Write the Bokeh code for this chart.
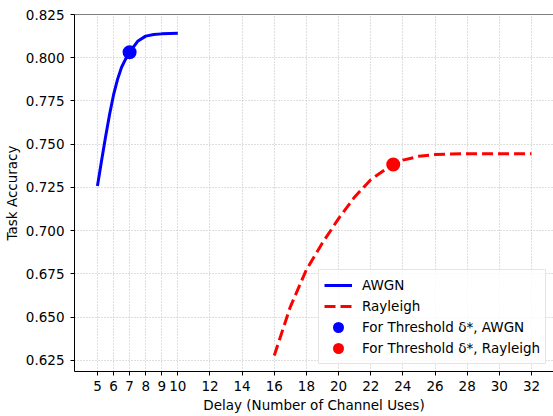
from bokeh.plotting import figure
from bokeh.models import FixedTicker, PrintfTickFormatter, Span, Legend, LegendItem, Range1d
from bokeh.embed import file_html
from bokeh.resources import INLINE

# ---- data ----
awgn_x = [5, 5.25, 5.5, 5.75, 6, 6.25, 6.5, 6.75, 7, 7.5, 8, 8.5, 9, 9.5, 10]
awgn_y = [0.7258, 0.7402, 0.7540, 0.7670, 0.7785, 0.7875, 0.7945, 0.7992, 0.8032,
          0.8095, 0.8125, 0.8134, 0.8138, 0.8140, 0.8141]
ray_x = [16, 17, 18, 19, 20, 21, 22, 23, 24, 25, 26, 27, 28, 30, 32]
ray_y = [0.6279, 0.6560, 0.6775, 0.6930, 0.7070, 0.7195, 0.7295, 0.7360, 0.7408,
         0.7430, 0.7440, 0.7443, 0.7445, 0.7445, 0.7445]
thr_awgn_x = [7]
thr_awgn_y = [0.8032]
thr_ray_x = [23.4]
thr_ray_y = [0.7383]
x_ticks = [5, 6, 7, 8, 9, 10, 12, 14, 16, 18, 20, 22, 24, 26, 28, 30, 32]
y_ticks = [0.625, 0.650, 0.675, 0.700, 0.725, 0.750, 0.775, 0.800, 0.825]
labels = ["AWGN", "Rayleigh", "For Threshold δ*, AWGN", "For Threshold δ*, Rayleigh"]

FONT = "DejaVu Sans"

p = figure(width=553, height=416, output_backend="svg", toolbar_location=None,
           x_range=Range1d(3.572, 33.37), y_range=Range1d(0.6186, 0.825),
           min_border_left=73, min_border_right=0, min_border_top=14, min_border_bottom=45)
p.outline_line_color = None
p.background_fill_color = "white"
p.border_fill_color = "white"

for ax in (p.xaxis[0], p.yaxis[0]):
    ax.major_label_text_font = FONT
    ax.major_label_text_font_size = "13.5px"
    ax.major_label_text_color = "black"
    ax.axis_label_text_font = FONT
    ax.axis_label_text_font_size = "13.5px"
    ax.axis_label_text_font_style = "normal"
    ax.axis_label_text_color = "black"
    ax.axis_line_color = "black"
    ax.major_tick_line_color = "black"
    ax.major_tick_out = 4
    ax.major_tick_in = 0
    ax.minor_tick_line_color = None

p.xaxis.ticker = FixedTicker(ticks=x_ticks)
p.yaxis.ticker = FixedTicker(ticks=y_ticks)
p.yaxis.formatter = PrintfTickFormatter(format="%.3f")
p.xaxis.axis_label = "Delay (Number of Channel Uses)"
p.yaxis.axis_label = "Task Accuracy"
p.xaxis.major_label_standoff = 5
p.yaxis.major_label_standoff = 6
p.xaxis.axis_label_standoff = 3
p.yaxis.axis_label_standoff = 3

for g in (p.xgrid[0], p.ygrid[0]):
    g.grid_line_color = "#bdbdbd"
    g.grid_line_dash = "1 2"
    g.grid_line_width = 1
p.xgrid.ticker = FixedTicker(ticks=x_ticks)
p.ygrid.ticker = FixedTicker(ticks=y_ticks)

p.add_layout(Span(location=0.825, dimension="width", line_color="black", line_width=1))

r1 = p.line(awgn_x, awgn_y, line_color="blue", line_width=3)
r2 = p.line(ray_x, ray_y, line_color="red", line_width=3, line_dash="11 5")
r3 = p.scatter(thr_awgn_x, thr_awgn_y, size=11, fill_color="blue", line_color="blue", line_width=3)
r4 = p.scatter(thr_ray_x, thr_ray_y, size=11, fill_color="red", line_color="red", line_width=3)

legend = Legend(items=[LegendItem(label=labels[0], renderers=[r1]),
                       LegendItem(label=labels[1], renderers=[r2]),
                       LegendItem(label=labels[2], renderers=[r3]),
                       LegendItem(label=labels[3], renderers=[r4])],
                location=(244, 7))
legend.label_text_font = FONT
legend.label_text_font_size = "13.5px"
legend.label_text_color = "black"
legend.glyph_width = 28
legend.glyph_height = 20
legend.label_height = 20
legend.label_standoff = 10
legend.padding = 5
legend.spacing = 1
legend.margin = 0
legend.border_line_color = "#cccccc"
legend.background_fill_alpha = 0.8
p.add_layout(legend)

open("out.html", "w").write(file_html(p, INLINE))
